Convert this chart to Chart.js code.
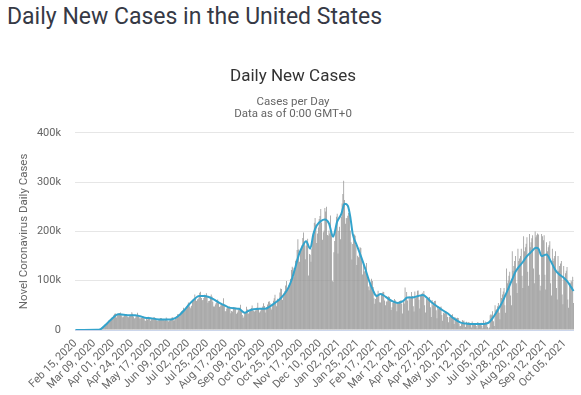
<!DOCTYPE html>
<html>
<head>
<meta charset="utf-8">
<script src="https://cdn.jsdelivr.net/npm/chart.js@4"></script>
<style>
body{margin:0;background:#fff;}
h1{position:absolute;left:7px;top:1px;margin:0;font:400 23px/32px Roboto,sans-serif;color:#363945;}
#wrap{position:absolute;left:10px;top:50px;}
</style>
</head>
<body>
<h1>Daily New Cases in the United States</h1>
<div id="wrap"><canvas id="grafica" width="571" height="345"></canvas></div>
<script>
// new cases per day, in thousands, one row per week (Sat..Fri), from Feb 15, 2020
const dailyCases = [
0,0,0,0,0,0,0,
0,0,0,0,0,0,0,
0,0.02,0.02,0.03,0.03,0.06,0.08,
0.1,0.1,0.18,0.29,0.27,0.5,0.7,
0.9,1.3,1.9,2.7,4.6,5.9,7.2,
8.7,10.4,10.2,11.1,13.4,17.2,19.7,
19.5,18.9,22.4,26.2,25.4,29.9,33.1,
33.3,25.6,30.6,31.8,33.3,34.6,35.4,
30.2,27.6,25.3,27.2,30.1,31.9,32.5,
29.9,26.4,26.0,27.7,29.8,31.2,36.2,
33.2,27.6,23.3,24.5,27.7,29.9,35.2,
29.4,25.3,22.5,24.2,24.7,28.2,27.4,
24.8,19.7,18.4,22.1,21.4,26.8,25.5,
24.2,18.9,21.9,21.8,22.1,26.4,25.4,
21.9,19.9,18.3,19.8,20.0,22.8,24.3,
24.6,20.6,21.9,20.1,19.7,22.3,25.5,
22.6,18.3,17.5,19.4,21.0,23.2,25.5,
26.0,19.8,19.7,23.4,26.5,28.4,31.9,
32.1,27.9,31.5,36.0,38.7,39.8,45.3,
42.7,41.5,41.1,47.6,51.4,55.6,54.0,
47.1,44.0,49.4,61.6,60.6,63.9,71.8,
66.5,58.6,62.0,63.0,66.1,75.6,77.6,
65.0,60.2,60.7,64.8,71.3,70.5,74.8,
66.6,55.5,58.9,59.3,68.0,72.0,68.0,
57.3,47.9,47.8,51.6,54.7,56.2,62.1,
55.4,46.5,48.2,52.8,53.4,51.2,64.6,
49.4,38.0,37.9,43.4,45.9,45.4,47.8,
45.1,34.2,38.3,37.7,46.6,44.2,46.1,
43.8,33.2,35.6,41.9,40.0,44.9,51.4,
40.8,30.3,24.4,27.3,35.2,36.4,47.0,
41.9,33.4,33.3,37.5,39.6,44.4,49.5,
43.0,38.8,37.4,39.8,40.2,45.9,55.2,
43.4,35.4,38.2,43.8,44.8,47.6,54.5,
48.6,35.6,41.5,46.0,51.5,57.4,58.1,
54.4,45.4,41.8,52.4,59.5,64.4,71.3,
56.0,48.1,63.2,61.4,62.2,76.2,84.2,
83.2,60.8,68.1,74.6,78.7,90.5,99.3,
81.2,84.0,91.5,93.8,104.0,121.9,128.2,
126.5,107.1,119.4,140.6,142.9,162.2,184.3,
163.1,138.7,161.5,162.4,172.2,186.8,198.0,
178.6,143.5,171.6,176.5,185.2,110.6,154.0,
152.5,138.3,165.2,180.8,200.2,217.5,227.2,
214.0,176.5,195.8,207.8,225.4,231.4,245.4,
218.3,183.2,198.5,201.7,247.5,240.2,250.0,
192.7,191.1,201.8,195.7,232.2,201.5,99.7,
97.6,157.9,180.5,199.8,230.0,235.7,155.3,
201.3,209.5,184.1,229.6,256.8,276.1,303.0,
263.7,215.4,226.8,227.3,231.8,237.3,244.0,
202.1,178.1,142.8,174.7,186.3,193.8,191.4,
172.3,131.8,150.9,147.4,155.5,168.0,166.5,
143.4,112.7,134.3,118.9,119.5,123.4,136.1,
105.7,88.2,80.4,93.3,95.9,104.2,99.2,
87.0,64.4,53.4,62.8,72.2,69.4,79.7,
71.1,56.2,55.8,71.1,74.9,77.7,77.0,
59.8,50.1,57.9,57.6,66.8,68.4,66.8,
59.4,40.6,46.3,55.5,58.6,62.9,60.2,
54.2,38.2,53.0,53.7,58.6,59.0,61.1,
53.2,33.3,57.5,53.9,86.1,66.0,77.3,
60.1,39.5,68.6,62.3,67.5,76.9,68.8,
48.4,37.5,78.0,64.3,66.3,79.5,80.1,
61.3,43.7,69.6,73.1,75.5,71.4,79.2,
50.2,35.3,62.7,62.6,65.8,64.1,67.1,
46.1,26.3,60.7,50.4,56.0,58.6,59.6,
40.2,23.9,47.0,42.7,45.1,45.6,47.6,
30.5,18.7,34.8,33.5,37.1,37.4,33.5,
26.4,15.7,26.6,27.2,29.8,30.1,31.8,
22.1,12.2,26.5,22.6,23.7,25.0,24.4,
13.3,7.5,8.0,12.5,20.1,18.4,19.1,
12.6,6.0,16.9,12.7,15.6,15.6,14.8,
10.2,5.1,17.2,10.1,14.4,12.6,11.4,
7.9,3.8,16.3,11.6,13.1,12.3,14.6,
8.2,3.4,19.7,12.0,17.0,14.6,14.3,
6,3,5,30,32,30,38,
18,8,50,40,42,48,55,
35,22,85,65,72,78,85,
50,35,125,95,100,110,118,
70,50,160,120,130,140,150,
95,75,165,140,145,150,165,
110,85,190,160,168,175,188,
118,90,195,168,178,186,192,
125,95,200,188,192,196,194,
112,80,90,195,190,182,192,
112,82,178,160,168,172,180,
95,70,165,140,145,150,160,
85,62,150,120,130,135,140,
72,52,130,105,115,120,128,
62,45,95,95,100,98,108,
55
];

// 7-day moving average, read at these dates (thousands)
const maDates = [
"Feb 15, 2020","Mar 12, 2020","Mar 17, 2020","Mar 22, 2020","Mar 27, 2020","Apr 01, 2020","Apr 07, 2020","Apr 14, 2020",
"Apr 21, 2020","Apr 28, 2020","May 04, 2020","May 10, 2020","May 17, 2020","May 24, 2020","Jun 01, 2020","Jun 11, 2020",
"Jun 16, 2020","Jun 21, 2020","Jun 27, 2020","Jul 03, 2020","Jul 09, 2020","Jul 15, 2020","Jul 21, 2020","Jul 27, 2020",
"Aug 02, 2020","Aug 08, 2020","Aug 14, 2020","Aug 20, 2020","Aug 27, 2020","Sep 02, 2020","Sep 09, 2020","Sep 14, 2020",
"Sep 20, 2020","Sep 27, 2020","Oct 04, 2020","Oct 10, 2020","Oct 16, 2020","Oct 22, 2020","Oct 28, 2020","Nov 02, 2020",
"Nov 06, 2020","Nov 10, 2020","Nov 14, 2020","Nov 18, 2020","Nov 23, 2020","Nov 28, 2020","Dec 02, 2020","Dec 06, 2020",
"Dec 11, 2020","Dec 16, 2020","Dec 21, 2020","Dec 26, 2020","Dec 31, 2020","Jan 05, 2021","Jan 09, 2021","Jan 13, 2021",
"Jan 16, 2021","Jan 19, 2021","Jan 24, 2021","Jan 29, 2021","Feb 03, 2021","Feb 08, 2021","Feb 13, 2021","Feb 17, 2021",
"Feb 22, 2021","Feb 26, 2021","Mar 03, 2021","Mar 09, 2021","Mar 15, 2021","Mar 21, 2021","Mar 27, 2021","Apr 02, 2021",
"Apr 09, 2021","Apr 15, 2021","Apr 20, 2021","Apr 25, 2021","May 03, 2021","May 09, 2021","May 15, 2021","May 22, 2021",
"May 31, 2021","Jun 07, 2021","Jun 13, 2021","Jun 25, 2021","Jul 01, 2021","Jul 05, 2021","Jul 09, 2021","Jul 13, 2021",
"Jul 17, 2021","Jul 21, 2021","Jul 25, 2021","Jul 29, 2021","Aug 02, 2021","Aug 06, 2021","Aug 10, 2021","Aug 15, 2021",
"Aug 20, 2021","Aug 25, 2021","Aug 31, 2021","Sep 03, 2021","Sep 07, 2021","Sep 10, 2021","Sep 13, 2021","Sep 18, 2021",
"Sep 24, 2021","Sep 29, 2021","Oct 04, 2021","Oct 09, 2021","Oct 13, 2021","Oct 16, 2021"
];
const maValues = [
0,0.3,2,9,17,25,32,31,
30,30,28,25,24,22,21.5,21.5,
24,30,40,52,62,69,69,67,
62,56,51,46,44,43,35,39,
42,43,43,48,55,63,74,88,
105,128,152,168,180,165,195,212,
221,224,216,189,220,235,256,252,
230,195,172,150,126,100,80,69,
73,70,64,58,55,58,66,66,
69,71,65,57,47,40,34,24,
15,13,12,12,13,16,24,34,
45,57,72,87,103,118,128,138,
150,158,167,165,150,152,153,140,
121,112,106,97,87,79
];

// dates written under the x axis
const tickLabels = [
"Feb 15, 2020","Mar 09, 2020","Apr 01, 2020","Apr 24, 2020","May 17, 2020","Jun 09, 2020","Jul 02, 2020",
"Jul 25, 2020","Aug 17, 2020","Sep 09, 2020","Oct 02, 2020","Oct 25, 2020","Nov 17, 2020","Dec 10, 2020",
"Jan 02, 2021","Jan 25, 2021","Feb 17, 2021","Mar 12, 2021","Apr 04, 2021","Apr 27, 2021","May 20, 2021",
"Jun 12, 2021","Jul 05, 2021","Jul 28, 2021","Aug 20, 2021","Sep 12, 2021","Oct 05, 2021"
];

const meses=["Jan","Feb","Mar","Apr","May","Jun","Jul","Aug","Sep","Oct","Nov","Dec"];
const dias=[];
for(let i=0;i<dailyCases.length;i++){
    const d=new Date(2020,1,15+i);
    dias.push(meses[d.getMonth()]+" "+String(d.getDate()).padStart(2,"0")+", "+d.getFullYear());
}
const promedio=maDates.map((f,i)=>({x:f,y:maValues[i]}));

const fuente="Roboto, sans-serif";
const ctx=document.getElementById("grafica");
new Chart(ctx,{
    type:"bar",
    data:{
        labels:dias,
        datasets:[
            {
                type:"line",
                label:"7-day moving average",
                data:promedio,
                borderColor:"#33a3cc",
                borderWidth:2,
                pointRadius:0,
                cubicInterpolationMode:"monotone",
                order:0
            },
            {
                type:"bar",
                label:"Daily Cases",
                data:dailyCases,
                backgroundColor:"#919191",
                barPercentage:0.9,
                categoryPercentage:1,
                order:1
            }
        ]
    },
    options:{
        responsive:false,
        animation:false,
        layout:{padding:{right:5}},
        plugins:{
            legend:{display:false},
            tooltip:{enabled:false},
            title:{display:true, text:"Daily New Cases", color:"#333333",
                font:{family:fuente, size:17, weight:"normal"}, padding:{top:17,bottom:0}},
            subtitle:{display:true, text:["Cases per Day","Data as of 0:00 GMT+0"], color:"#666666",
                font:{family:fuente, size:11.5, lineHeight:1.02}, padding:{top:9,bottom:13}}
        },
        scales:{
            x:{
                grid:{display:false, drawTicks:false},
                border:{color:"#ccd6eb"},
                ticks:{
                    autoSkip:false, maxRotation:45, minRotation:45, padding:7,
                    color:"#666666", font:{family:fuente, size:11},
                    callback:function(v){
                        const l=this.getLabelForValue(v);
                        return tickLabels.includes(l)?l:null;
                    }
                },
                afterFit:s=>{s.height=65;}
            },
            y:{
                min:0, max:400,
                grid:{color:"#e6e6e6", drawTicks:false},
                border:{display:false},
                ticks:{stepSize:100, padding:14, color:"#666666", font:{family:fuente, size:11},
                    callback:v=>v===0?"0":v+"k"},
                title:{display:true, text:"Novel Coronavirus Daily Cases", color:"#666666",
                    font:{family:fuente, size:11.5}, padding:{top:7,bottom:0}},
                afterFit:s=>{s.width=65;}
            }
        }
    }
});
</script>
</body>
</html>
